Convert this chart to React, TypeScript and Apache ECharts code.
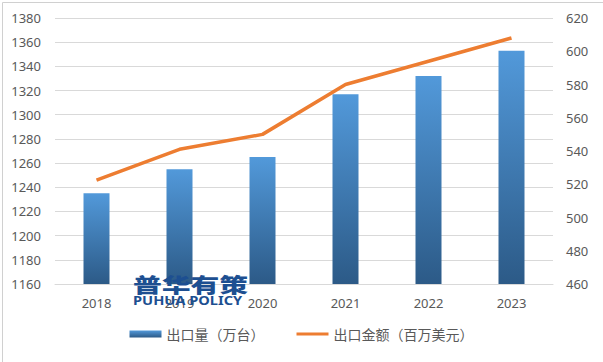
import React, { useEffect, useRef } from "react";
import * as echarts from "echarts";

const years = ["2018", "2019", "2020", "2021", "2022", "2023"];
const exportVolume = [1235, 1255, 1265, 1317, 1332, 1353];
const exportValue = [522.5, 541, 550, 580, 594, 608];
const volumeName = "出口量（万台）";
const valueName = "出口金额（百万美元）";

export default function App() {
  const ref = useRef<HTMLDivElement>(null);
  useEffect(() => {
    if (!ref.current) return;
    const chart = echarts.init(ref.current, null, { renderer: "svg" });
    const font = "'Noto Sans', 'Noto Sans CJK SC', sans-serif";
    chart.setOption({
      animation: false,
      backgroundColor: "#ffffff",
      textStyle: { fontFamily: font },
      grid: { left: 55, right: 50, top: 18, bottom: 78 },
      legend: {
        bottom: 16,
        left: "center",
        itemWidth: 32,
        itemHeight: 7,
        itemGap: 32,
        textStyle: { color: "#595959", fontSize: 14, fontFamily: "'Noto Sans CJK SC', sans-serif" },
        data: [
          { name: volumeName, icon: "rect" },
          { name: valueName, icon: "path://M0,0H34V3H0Z" },
        ],
      },
      xAxis: {
        type: "category",
        data: years,
        axisLine: { show: true, lineStyle: { color: "#d9d9d9" } },
        axisTick: { show: false },
        axisLabel: { color: "#595959", fontSize: 13, margin: 12 },
      },
      yAxis: [
        {
          type: "value",
          min: 1160,
          max: 1380,
          interval: 20,
          axisLine: { show: false },
          axisTick: { show: false },
          axisLabel: { color: "#595959", fontSize: 13, margin: 14, formatter: (v: number) => String(v) },
          splitLine: { lineStyle: { color: "#d9d9d9" } },
        },
        {
          type: "value",
          min: 460,
          max: 620,
          interval: 20,
          axisLine: { show: false },
          axisTick: { show: false },
          axisLabel: { color: "#595959", fontSize: 13, margin: 13, formatter: (v: number) => String(v) },
          splitLine: { show: false },
        },
      ],
      series: [
        {
          name: volumeName,
          type: "bar",
          data: exportVolume,
          barWidth: 26,
          itemStyle: {
            color: new echarts.graphic.LinearGradient(0, 0, 0, 1, [
              { offset: 0, color: "#5299da" },
              { offset: 1, color: "#2c5a87" },
            ]),
          },
        },
        {
          name: valueName,
          type: "line",
          yAxisIndex: 1,
          data: exportValue,
          symbol: "none",
          showSymbol: false,
          lineStyle: { color: "#ed7d31", width: 3.5 },
          itemStyle: { color: "#ed7d31" },
        },
      ],
      graphic: [
        {
          type: "rect",
          left: 0,
          top: 0,
          shape: { width: 602, height: 361 },
          style: { fill: "none", stroke: "#d0d0d0", lineWidth: 1 },
          silent: true,
        },
        {
          type: "text",
          x: 133,
          y: 274,
          scaleX: 1.2,
          scaleY: 0.85,
          z: 100,
          style: {
            text: "普华有策",
            font: "900 24px 'Noto Sans CJK SC', sans-serif",
            fill: "#1d4f91",
          },
        },
        {
          type: "text",
          x: 133,
          y: 295,
          scaleX: 1.22,
          scaleY: 1,
          z: 100,
          style: {
            text: "PUHUA POLICY",
            font: "bold 12px 'Noto Sans', sans-serif",
            fill: "#1d4f91",
          },
        },
      ],
    });
    return () => chart.dispose();
  }, []);
  return (
    <div
      ref={ref}
      style={{ position: "fixed", left: 0, top: 0, width: 603, height: 362 }}
    />
  );
}
